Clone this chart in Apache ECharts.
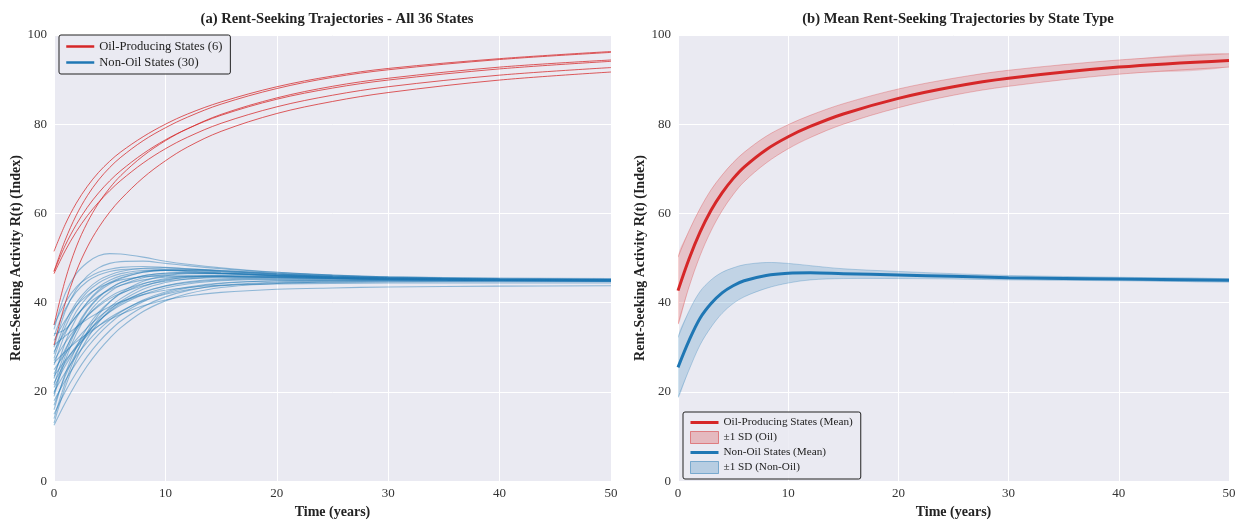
<!DOCTYPE html>
<html>
<head>
<meta charset="utf-8">
<script src="https://cdn.jsdelivr.net/npm/echarts@6/dist/echarts.min.js"></script>
<style>
  html, body { margin: 0; padding: 0; background: #fff; overflow: hidden; }
  #chart { position: absolute; left: 0; top: 0; width: 1253px; height: 524px; }
</style>
</head>
<body>
<div id="chart"></div>
<script>
const years = [0, 1, 2, 3, 4, 5, 6, 8, 10, 12, 15, 20, 25, 30, 40, 50];

// (a) oil-producing states
const oil1 = [51.5, 57.5, 62.3, 66.1, 69.2, 71.7, 73.8, 77.2, 80.0, 82.3, 85.0, 88.4, 90.8, 92.5, 94.7, 96.3];
const oil2 = [47.0, 54.0, 59.6, 64.0, 67.5, 70.3, 72.6, 76.3, 79.2, 81.6, 84.5, 88.0, 90.5, 92.2, 94.5, 96.1];
const oil3 = [35.0, 45.0, 52.5, 58.0, 62.3, 65.7, 68.5, 72.9, 76.3, 79.0, 82.2, 85.9, 88.5, 90.3, 92.8, 94.4];
const oil4 = [47.0, 52.8, 57.5, 61.4, 64.6, 67.3, 69.6, 73.4, 76.5, 79.0, 82.0, 85.6, 88.1, 89.9, 92.4, 94.1];
const oil5 = [46.5, 51.6, 55.9, 59.5, 62.5, 65.1, 67.4, 71.3, 74.5, 77.1, 80.2, 83.9, 86.5, 88.4, 91.0, 92.7];
const oil6 = [30.5, 39.8, 47.0, 52.5, 56.8, 60.3, 63.2, 68.0, 71.8, 74.9, 78.4, 82.4, 85.1, 87.1, 89.9, 91.7];

// (a) non-oil states
const nonOil01 = [34.0, 42.0, 46.5, 49.0, 50.5, 51.0, 50.9, 50.2, 49.3, 48.6, 47.8, 46.8, 46.2, 45.8, 45.5, 45.4];
const nonOil02 = [30.0, 38.0, 43.0, 46.0, 47.8, 48.8, 49.2, 49.3, 48.8, 48.3, 47.6, 46.8, 46.2, 45.8, 45.4, 45.3];
const nonOil03 = [35.0, 40.0, 43.5, 45.5, 46.8, 47.5, 47.9, 48.1, 47.9, 47.6, 47.1, 46.4, 45.9, 45.6, 45.3, 45.2];
const nonOil04 = [33.0, 34.0, 37.0, 40.0, 42.5, 44.2, 45.4, 46.8, 47.3, 47.4, 47.2, 46.6, 46.1, 45.7, 45.3, 45.1];
const nonOil05 = [28.5, 35.5, 40.0, 43.0, 45.0, 46.2, 47.0, 47.7, 47.8, 47.6, 47.2, 46.5, 46.0, 45.6, 45.3, 45.2];
const nonOil06 = [26.0, 33.0, 38.0, 41.3, 43.5, 45.0, 46.0, 47.0, 47.3, 47.3, 47.0, 46.4, 45.9, 45.6, 45.3, 45.1];
const nonOil07 = [23.0, 31.0, 36.5, 40.2, 42.8, 44.5, 45.6, 46.8, 47.2, 47.2, 46.9, 46.3, 45.8, 45.5, 45.2, 45.1];
const nonOil08 = [21.5, 29.0, 34.5, 38.5, 41.3, 43.2, 44.5, 46.0, 46.6, 46.8, 46.6, 46.1, 45.7, 45.4, 45.1, 45.0];
const nonOil09 = [19.0, 27.0, 33.0, 37.3, 40.3, 42.4, 43.9, 45.6, 46.3, 46.6, 46.5, 46.1, 45.7, 45.4, 45.1, 45.0];
const nonOil10 = [16.0, 24.0, 30.0, 34.5, 37.8, 40.2, 42.0, 44.2, 45.4, 45.9, 46.1, 45.9, 45.6, 45.3, 45.1, 45.0];
const nonOil11 = [13.0, 21.0, 27.3, 32.0, 35.6, 38.3, 40.3, 43.0, 44.5, 45.3, 45.8, 45.8, 45.5, 45.3, 45.1, 44.9];
const nonOil12 = [31.5, 36.0, 39.3, 41.7, 43.3, 44.4, 45.1, 45.8, 46.0, 46.0, 45.9, 45.7, 45.5, 45.3, 45.1, 45.0];
const nonOil13 = [29.0, 33.5, 37.0, 39.6, 41.5, 42.9, 43.9, 45.1, 45.7, 45.9, 45.9, 45.7, 45.5, 45.3, 45.1, 44.9];
const nonOil14 = [27.0, 31.0, 34.4, 37.1, 39.2, 40.9, 42.1, 43.8, 44.8, 45.3, 45.6, 45.6, 45.4, 45.2, 45.0, 44.9];
const nonOil15 = [25.0, 28.5, 31.7, 34.4, 36.7, 38.6, 40.1, 42.3, 43.7, 44.5, 45.1, 45.3, 45.3, 45.2, 45.0, 44.9];
const nonOil16 = [24.0, 29.5, 33.8, 37.0, 39.5, 41.3, 42.6, 44.3, 45.2, 45.6, 45.8, 45.6, 45.4, 45.2, 45.0, 44.9];
const nonOil17 = [22.0, 26.5, 30.3, 33.4, 35.9, 37.9, 39.5, 41.8, 43.3, 44.2, 44.9, 45.2, 45.2, 45.1, 45.0, 44.9];
const nonOil18 = [20.0, 24.3, 28.0, 31.2, 33.9, 36.1, 37.9, 40.6, 42.4, 43.5, 44.4, 44.9, 45.0, 45.0, 44.9, 44.8];
const nonOil19 = [18.0, 22.5, 26.5, 30.0, 32.9, 35.3, 37.3, 40.2, 42.1, 43.3, 44.3, 44.9, 45.0, 45.0, 44.9, 44.8];
const nonOil20 = [15.0, 20.0, 24.3, 28.0, 31.1, 33.7, 35.9, 39.1, 41.3, 42.7, 43.9, 44.6, 44.8, 44.9, 44.9, 44.8];
const nonOil21 = [12.5, 17.5, 22.0, 25.9, 29.2, 32.0, 34.4, 38.0, 40.4, 42.0, 43.4, 44.3, 44.6, 44.7, 44.8, 44.8];
const nonOil22 = [30.5, 32.5, 34.5, 36.3, 37.8, 39.1, 40.2, 41.8, 42.8, 43.4, 43.9, 44.2, 44.3, 44.4, 44.4, 44.4];
const nonOil23 = [26.5, 29.0, 31.2, 33.1, 34.8, 36.2, 37.4, 39.3, 40.6, 41.5, 42.3, 43.0, 43.3, 43.5, 43.7, 43.8];
const nonOil24 = [23.5, 27.0, 30.0, 32.6, 34.8, 36.6, 38.1, 40.4, 41.9, 42.9, 43.8, 44.4, 44.6, 44.7, 44.7, 44.7];
const nonOil25 = [21.0, 25.8, 29.8, 33.1, 35.8, 38.0, 39.8, 42.3, 43.8, 44.7, 45.3, 45.5, 45.4, 45.3, 45.1, 45.0];
const nonOil26 = [17.0, 23.5, 28.8, 33.0, 36.3, 38.9, 40.9, 43.6, 45.0, 45.7, 46.0, 45.9, 45.6, 45.4, 45.1, 45.0];
const nonOil27 = [14.0, 22.0, 28.5, 33.5, 37.3, 40.1, 42.2, 44.8, 46.0, 46.5, 46.5, 46.1, 45.7, 45.4, 45.1, 45.0];
const nonOil28 = [32.5, 38.5, 42.4, 44.8, 46.2, 47.0, 47.4, 47.6, 47.4, 47.1, 46.7, 46.2, 45.8, 45.5, 45.2, 45.1];
const nonOil29 = [27.5, 34.5, 39.3, 42.4, 44.4, 45.7, 46.5, 47.2, 47.2, 47.0, 46.6, 46.1, 45.7, 45.4, 45.2, 45.1];
const nonOil30 = [19.5, 28.0, 34.0, 38.2, 41.1, 43.1, 44.5, 46.0, 46.6, 46.7, 46.5, 46.0, 45.6, 45.3, 45.1, 45.0];

const oilStates = [oil1, oil2, oil3, oil4, oil5, oil6];
const nonOilStates = [
  nonOil01, nonOil02, nonOil03, nonOil04, nonOil05, nonOil06, nonOil07, nonOil08, nonOil09, nonOil10,
  nonOil11, nonOil12, nonOil13, nonOil14, nonOil15, nonOil16, nonOil17, nonOil18, nonOil19, nonOil20,
  nonOil21, nonOil22, nonOil23, nonOil24, nonOil25, nonOil26, nonOil27, nonOil28, nonOil29, nonOil30
];

// (b) group means and standard deviations
const oilMean    = [42.7, 49.8, 55.8, 60.7, 64.6, 67.8, 70.4, 74.3, 77.2, 79.5, 82.3, 85.8, 88.4, 90.3, 92.8, 94.3];
const oilSd      = [7.5, 6.3, 5.3, 4.6, 4.0, 3.6, 3.3, 3.0, 2.7, 2.5, 2.3, 2.1, 1.9, 1.8, 1.6, 1.5];
const nonOilMean = [25.5, 31.5, 36.5, 39.8, 42.2, 43.8, 44.9, 46.1, 46.6, 46.7, 46.5, 46.2, 45.9, 45.6, 45.3, 45.0];
const nonOilSd   = [6.7, 6.6, 6.0, 5.3, 4.6, 4.0, 3.6, 2.9, 2.2, 1.6, 1.1, 0.8, 0.6, 0.5, 0.4, 0.4];

const RED = '#d62728';
const BLUE = '#1f77b4';
const FONT = '"Liberation Serif", "DejaVu Serif", serif';
const SMOOTH = 0.35;

const oilName = 'Oil-Producing States (6)';
const nonOilName = 'Non-Oil States (30)';

function pairs(vals) {
  return years.map((t, i) => [t, vals[i]]);
}

const series = [];
nonOilStates.forEach(v => {
  series.push({
    name: nonOilName, type: 'line', xAxisIndex: 0, yAxisIndex: 0,
    data: pairs(v), symbol: 'none', smooth: SMOOTH, color: BLUE,
    lineStyle: { width: 1.1, opacity: 0.45 }, silent: true
  });
});
oilStates.forEach(v => {
  series.push({
    name: oilName, type: 'line', xAxisIndex: 0, yAxisIndex: 0,
    data: pairs(v), symbol: 'none', smooth: SMOOTH, color: RED,
    lineStyle: { width: 1, opacity: 0.75 }, silent: true
  });
});

// shaded mean +- sd band, drawn once through the axis scales
function band(mean, sd, label, fill, edge) {
  series.push({
    name: label, type: 'custom', xAxisIndex: 1, yAxisIndex: 1, color: fill,
    clip: true, silent: true,
    data: years.map((t, i) => [t, mean[i] - sd[i], mean[i] + sd[i]]),
    encode: { x: 0, y: [1, 2] },
    renderItem: function (params, api) {
      if (params.dataIndex !== 0) return null;
      const upper = [], lower = [];
      for (let i = 0; i < years.length; i++) {
        upper.push(api.coord([years[i], mean[i] + sd[i]]));
        lower.push(api.coord([years[i], mean[i] - sd[i]]));
      }
      const ring = upper.concat(lower.slice().reverse());
      return {
        type: 'group',
        children: [
          { type: 'polygon', shape: { points: ring, smooth: SMOOTH }, style: { fill: fill, stroke: null } },
          { type: 'polyline', shape: { points: upper, smooth: SMOOTH }, style: { fill: null, stroke: edge, lineWidth: 0.8 } },
          { type: 'polyline', shape: { points: lower, smooth: SMOOTH }, style: { fill: null, stroke: edge, lineWidth: 0.8 } }
        ]
      };
    }
  });
}
band(oilMean, oilSd, '±1 SD (Oil)', 'rgba(214,39,40,0.2)', 'rgba(214,39,40,0.35)');
series.push({
  name: 'Oil-Producing States (Mean)', type: 'line', xAxisIndex: 1, yAxisIndex: 1,
  data: pairs(oilMean), symbol: 'none', smooth: SMOOTH, color: RED, lineStyle: { width: 3 }
});
band(nonOilMean, nonOilSd, '±1 SD (Non-Oil)', 'rgba(31,119,180,0.2)', 'rgba(31,119,180,0.35)');
series.push({
  name: 'Non-Oil States (Mean)', type: 'line', xAxisIndex: 1, yAxisIndex: 1,
  data: pairs(nonOilMean), symbol: 'none', smooth: SMOOTH, color: BLUE, lineStyle: { width: 3 }
});

function xAx(idx) {
  return {
    type: 'value', gridIndex: idx, min: 0, max: 50, interval: 10,
    name: 'Time (years)', nameLocation: 'middle', nameGap: 20,
    nameTextStyle: { fontFamily: FONT, fontWeight: 'bold', fontSize: 14, color: '#222' },
    axisLine: { show: false }, axisTick: { show: false },
    axisLabel: { fontFamily: FONT, fontSize: 13, color: '#333', margin: 6 },
    splitLine: { show: true, lineStyle: { color: '#ffffff', width: 1 } }
  };
}
function yAx(idx) {
  return {
    type: 'value', gridIndex: idx, min: 0, max: 100, interval: 20,
    name: 'Rent-Seeking Activity R(t) (Index)', nameLocation: 'middle', nameGap: 30,
    nameTextStyle: { fontFamily: FONT, fontWeight: 'bold', fontSize: 14, color: '#222' },
    axisLine: { show: false }, axisTick: { show: false },
    axisLabel: { fontFamily: FONT, fontSize: 13, color: '#333', margin: 7 },
    splitLine: { show: true, lineStyle: { color: '#ffffff', width: 1 } }
  };
}

const legendBase = {
  orient: 'vertical', backgroundColor: 'rgba(234,234,242,0.85)',
  borderColor: '#222', borderWidth: 1, borderRadius: 2,
  padding: [5, 8, 5, 6], itemGap: 3, itemWidth: 28, itemHeight: 12,
  itemStyle: { opacity: 0 },
  selectedMode: false
};

const option = {
  backgroundColor: '#ffffff',
  animation: false,
  title: [
    { text: '(a) Rent-Seeking Trajectories - All 36 States', left: 332, top: 7, textAlign: 'center',
      textStyle: { fontFamily: FONT, fontWeight: 'bold', fontSize: 14.6, color: '#222' } },
    { text: '(b) Mean Rent-Seeking Trajectories by State Type', left: 953, top: 7, textAlign: 'center',
      textStyle: { fontFamily: FONT, fontWeight: 'bold', fontSize: 14.6, color: '#222' } }
  ],
  grid: [
    { left: 54, top: 35, width: 557, height: 450, show: true, backgroundColor: '#EAEAF2', borderWidth: 0 },
    { left: 678, top: 35, width: 551, height: 450, show: true, backgroundColor: '#EAEAF2', borderWidth: 0 }
  ],
  xAxis: [xAx(0), xAx(1)],
  yAxis: [yAx(0), yAx(1)],
  legend: [
    Object.assign({}, legendBase, {
      left: 59, top: 35,
      lineStyle: { width: 2.5, opacity: 1 },
      textStyle: { fontFamily: FONT, fontSize: 12.6, color: '#222' },
      data: [oilName, nonOilName]
    }),
    Object.assign({}, legendBase, {
      left: 683, top: 412,
      lineStyle: { width: 3, opacity: 1 },
      textStyle: { fontFamily: FONT, fontSize: 11.2, color: '#222' },
      data: [
        { name: 'Oil-Producing States (Mean)' },
        { name: '±1 SD (Oil)', icon: 'rect',
          itemStyle: { opacity: 1, color: 'rgba(214,39,40,0.25)', borderColor: 'rgba(214,39,40,0.5)', borderWidth: 1 } },
        { name: 'Non-Oil States (Mean)' },
        { name: '±1 SD (Non-Oil)', icon: 'rect',
          itemStyle: { opacity: 1, color: 'rgba(31,119,180,0.25)', borderColor: 'rgba(31,119,180,0.5)', borderWidth: 1 } }
      ]
    })
  ],
  series: series
};

const myChart = echarts.init(document.getElementById('chart'));
myChart.setOption(option);
</script>
</body>
</html>
